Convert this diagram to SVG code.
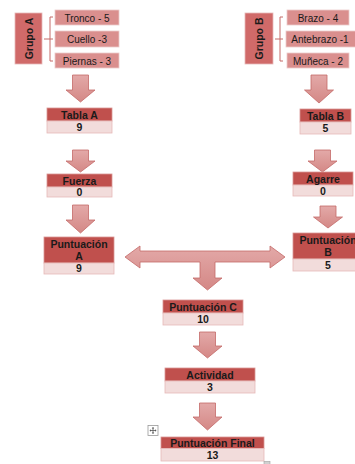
<svg xmlns="http://www.w3.org/2000/svg" width="355" height="464" viewBox="0 0 355 464">
<defs>
<linearGradient id="ag" x1="0" y1="0" x2="0" y2="1">
<stop offset="0" stop-color="#e3a9a8"/>
<stop offset="1" stop-color="#d48886"/>
</linearGradient>
</defs>
<style>
.arr{fill:url(#ag);stroke:#c46a68;stroke-width:0.8}
.hd{fill:#c0504d;stroke:#d99694;stroke-width:0.8}
.vl{fill:#f2dcdb;stroke:#e6b9b8;stroke-width:0.8}
.grp{fill:#d06a69;stroke:#e6b9b8;stroke-width:0.8}
.itm{fill:#da8f8e;stroke:#eccbca;stroke-width:0.8}
.br{fill:none;stroke:#c46a68;stroke-width:1}
.t{font-family:"Liberation Sans",Arial,sans-serif;font-size:10.5px;font-weight:bold;fill:#1a1a1a;text-anchor:middle}
.ti{font-family:"Liberation Sans",Arial,sans-serif;font-size:10px;fill:#1a1a1a;text-anchor:middle}
</style>
<rect width="355" height="464" fill="#ffffff"/>

<g id="grupoA">
<rect class="grp" x="15" y="13" width="27" height="51"/>
<text class="t" transform="translate(32.5,38.5) rotate(-90)">Grupo A</text>
<path class="br" d="M53,17 H50 V61 H53 M44,39 H53"/>
</g>
<g id="tronco"><rect class="itm" x="55" y="10" width="64" height="15"/><text class="ti" x="87" y="21.5">Tronco - 5</text></g>
<g id="cuello"><rect class="itm" x="55" y="31" width="64" height="16"/><text class="ti" x="87" y="43">Cuello -3</text></g>
<g id="piernas"><rect class="itm" x="55" y="53" width="64" height="15"/><text class="ti" x="87" y="64.5">Piernas - 3</text></g>

<g id="grupoB">
<rect class="grp" x="245" y="13" width="28" height="51"/>
<text class="t" transform="translate(263,38.5) rotate(-90)">Grupo B</text>
<path class="br" d="M283,17 H280 V61 H283 M275,39 H283"/>
</g>
<g id="brazo"><rect class="itm" x="287" y="10" width="62" height="15"/><text class="ti" x="318" y="21.5">Brazo - 4</text></g>
<g id="antebrazo"><rect class="itm" x="286" y="31" width="72" height="16"/><text class="ti" x="320" y="43">Antebrazo -1</text></g>
<g id="muneca"><rect class="itm" x="287" y="53" width="62" height="15"/><text class="ti" x="318" y="64.5">Muñeca - 2</text></g>

<g id="connectors">
<path class="arr" d="M72.5,75 H88.5 V90 H95 L80.5,102 L66,90 H72.5 Z"/>
<path class="arr" d="M72.5,150 H88.5 V161 H95 L80.5,172 L66,161 H72.5 Z"/>
<path class="arr" d="M72.5,205 H88.5 V220 H95 L80.5,233 L66,220 H72.5 Z"/>
<path class="arr" d="M311,75 H327 V90 H333.5 L319,103 L304.5,90 H311 Z"/>
<path class="arr" d="M314.5,150 H330.5 V161 H337 L322.5,172 L308,161 H314.5 Z"/>
<path class="arr" d="M320,206 H336 V217 H342.5 L328,228 L313.5,217 H320 Z"/>
<path class="arr" d="M125,257 L140,246 L140,251 L270,251 L270,246 L285,257 L270,268 L270,262 L215,262 L215,278 L222,278 L207.5,290 L193,278 L200,278 L200,262 L140,262 L140,268 Z"/>
<path class="arr" d="M199.5,332 H215.5 V346 H222 L207.5,358 L193,346 H199.5 Z"/>
<path class="arr" d="M199.5,403 H215.5 V417 H222 L207.5,430 L193,417 H199.5 Z"/>
</g>

<g id="tablaA">
<rect class="hd" x="47" y="108" width="65" height="13"/>
<rect class="vl" x="47" y="121" width="65" height="12"/>
<text class="t" x="79.5" y="118.5">Tabla A</text>
<text class="t" x="79.5" y="131">9</text>
</g>
<g id="fuerza">
<rect class="hd" x="47" y="174" width="65" height="13"/>
<rect class="vl" x="47" y="187" width="65" height="10"/>
<text class="t" x="79.5" y="184.5">Fuerza</text>
<text class="t" x="79.5" y="196">0</text>
</g>
<g id="puntuacionA">
<rect class="hd" x="44" y="237" width="70" height="26"/>
<rect class="vl" x="44" y="263" width="70" height="11"/>
<text class="t" x="79" y="247.5">Puntuación</text>
<text class="t" x="79" y="259.5">A</text>
<text class="t" x="79" y="272">9</text>
</g>
<g id="tablaB">
<rect class="hd" x="300" y="109" width="51" height="13"/>
<rect class="vl" x="300" y="122" width="51" height="12"/>
<text class="t" x="325.5" y="119.5">Tabla B</text>
<text class="t" x="325.5" y="132">5</text>
</g>
<g id="agarre">
<rect class="hd" x="293" y="172" width="60" height="13"/>
<rect class="vl" x="293" y="185" width="60" height="11"/>
<text class="t" x="323" y="182.5">Agarre</text>
<text class="t" x="323" y="194.5">0</text>
</g>
<g id="puntuacionB">
<rect class="hd" x="293" y="233" width="70" height="26"/>
<rect class="vl" x="293" y="259" width="70" height="12"/>
<text class="t" x="328" y="243.5">Puntuación</text>
<text class="t" x="328" y="255.5">B</text>
<text class="t" x="328" y="268.5">5</text>
</g>
<g id="puntuacionC">
<rect class="hd" x="163" y="300" width="80" height="13"/>
<rect class="vl" x="163" y="313" width="80" height="12"/>
<text class="t" x="203" y="310.5">Puntuación C</text>
<text class="t" x="203" y="323">10</text>
</g>
<g id="actividad">
<rect class="hd" x="165" y="368" width="90" height="13"/>
<rect class="vl" x="165" y="381" width="90" height="12"/>
<text class="t" x="210" y="378.5">Actividad</text>
<text class="t" x="210" y="391">3</text>
</g>
<g id="puntuacionFinal">
<rect class="hd" x="161" y="437" width="103" height="11.5"/>
<rect class="vl" x="161" y="448.5" width="103" height="12.5"/>
<text class="t" x="212.5" y="446.5">Puntuación Final</text>
<text class="t" x="212.5" y="459">13</text>
</g>

<g id="moveIcon">
<rect x="148" y="425.5" width="10" height="10" fill="#ffffff" stroke="#9a9a9a" stroke-width="0.8"/>
<path d="M153,427.5 V433.5 M150,430.5 H156" stroke="#555" stroke-width="0.8" fill="none"/>
<path d="M153,427 l-1.2,1.4 h2.4 Z M153,434 l-1.2,-1.4 h2.4 Z M149.5,430.5 l1.4,-1.2 v2.4 Z M156.5,430.5 l-1.4,-1.2 v2.4 Z" fill="#555"/>
</g>
<rect x="264" y="461.5" width="6" height="3" fill="#d0d0d0" stroke="#a0a0a0" stroke-width="0.6"/>
</svg>
